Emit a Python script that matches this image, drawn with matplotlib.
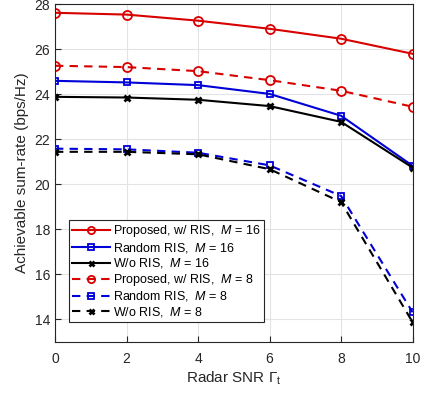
import matplotlib
matplotlib.use("Agg")
import matplotlib.pyplot as plt

plt.rcParams['font.family'] = ['Liberation Sans', 'DejaVu Sans']
plt.rcParams['mathtext.fontset'] = 'custom'
plt.rcParams['mathtext.it'] = 'Liberation Sans:italic'
plt.rcParams['mathtext.rm'] = 'Liberation Sans'

snr = [0, 2, 4, 6, 8, 10]
prop16 = [27.61, 27.53, 27.26, 26.90, 26.46, 25.79]
rand16 = [24.59, 24.52, 24.40, 24.01, 23.04, 20.82]
wo16 = [23.88, 23.85, 23.75, 23.47, 22.77, 20.74]
prop8 = [25.26, 25.20, 25.02, 24.62, 24.15, 23.44]
rand8 = [21.58, 21.55, 21.40, 20.84, 19.48, 14.32]
wo8 = [21.44, 21.44, 21.33, 20.67, 19.21, 13.88]

labels = ['Proposed, w/ RIS,  $M$ = 16', 'Random RIS,  $M$ = 16', 'W/o RIS,  $M$ = 16',
          'Proposed, w/ RIS,  $M$ = 8', 'Random RIS,  $M$ = 8', 'W/o RIS,  $M$ = 8']

fig = plt.figure(figsize=(4.33, 3.96), dpi=100)
ax = fig.add_axes([55/433, 1-342/396, (412.3-54.7)/433, (342-4)/396])

red = '#d90000'
blue = '#0000d9'
black = '#000000'
kw = dict(lw=1.5, mfc='none', mew=1.3)
dash = (0, (4, 3))
ax.plot(snr, prop16, color=red, marker='o', ms=6.5, ls='-', label=labels[0], **kw)
ax.plot(snr, rand16, color=blue, marker='s', ms=5, ls='-', label=labels[1], **kw)
ax.plot(snr, wo16, color=black, marker='x', ms=4.5, ls='-', label=labels[2], lw=1.5, mew=2)
ax.plot(snr, prop8, color=red, marker='o', ms=6.5, ls=dash, label=labels[3], **kw)
ax.plot(snr, rand8, color=blue, marker='s', ms=5, ls=dash, label=labels[4], **kw)
ax.plot(snr, wo8, color=black, marker='x', ms=4.5, ls=dash, label=labels[5], lw=1.5, mew=2)

ax.set_xlim(0, 10)
ax.set_ylim(13, 28)
ax.set_xticks([0, 2, 4, 6, 8, 10])
ax.set_yticks([14, 16, 18, 20, 22, 24, 26, 28])
ax.grid(True, color='#e3e3e3', lw=0.8)
ax.set_axisbelow(True)
ax.tick_params(direction='in', labelsize=10, colors='#262626', length=4)
ax.tick_params(axis='x', pad=7)
for s in ax.spines.values():
    s.set_color('#262626')
    s.set_linewidth(0.8)
ax.set_xlabel('Radar SNR $\\Gamma_\\mathrm{t}$', fontsize=11, color='#262626', labelpad=3)
ax.set_ylabel('Achievable sum-rate (bps/Hz)', fontsize=11, color='#262626')

leg = ax.legend(loc='lower left', bbox_to_anchor=(14/357.6, 20/338), fontsize=9,
                fancybox=False, edgecolor='#262626', framealpha=1,
                handlelength=3, handletextpad=0.3, borderpad=0.25, labelspacing=0.12,
                borderaxespad=0, markerscale=0.8)
leg.get_frame().set_linewidth(0.8)

fig.savefig('out.png', dpi=100)
